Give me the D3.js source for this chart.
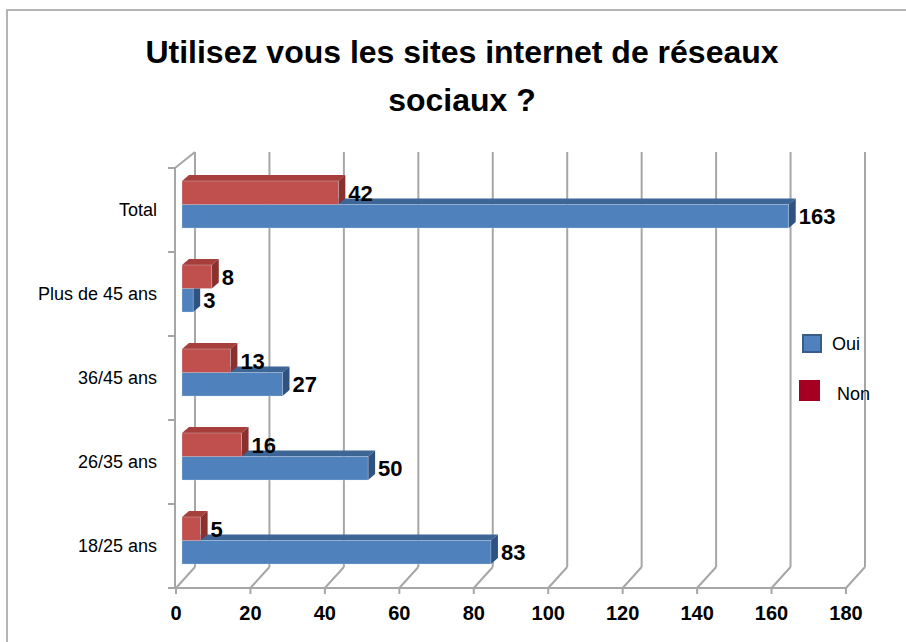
<!DOCTYPE html>
<html lang="fr">
<head>
    <meta charset="UTF-8">
    <title>Utilisez vous les sites internet de réseaux sociaux ?</title>
    <script src="https://d3js.org/d3.v7.min.js"></script>
    <style>
        body { margin: 0; background: #fff; }
        svg text { font-family: "Liberation Sans", Arial, sans-serif; }
    </style>
</head>
<body>
    <div id="chart"></div>
    <script>
        const categories = ["Total", "Plus de 45 ans", "36/45 ans", "26/35 ans", "18/25 ans"];
        const oui = [163, 3, 27, 50, 83];
        const non = [42, 8, 13, 16, 5];
        const xTicks = [0, 20, 40, 60, 80, 100, 120, 140, 160, 180];
        const seriesNames = ["Oui", "Non"];

        const W = 906, H = 642;
        const svg = d3.select("#chart").append("svg")
            .attr("width", W)
            .attr("height", H);

        // chart area frame
        svg.append("rect")
            .attr("x", 7).attr("y", 10)
            .attr("width", 950).attr("height", 700)
            .attr("fill", "#fff")
            .attr("stroke", "#b4b4b4")
            .attr("stroke-width", 2);

        // title
        const title = svg.append("text")
            .attr("text-anchor", "middle")
            .attr("font-weight", "bold")
            .attr("font-size", 32)
            .attr("fill", "#000");
        title.append("tspan").attr("x", 462).attr("y", 63).text("Utilisez vous les sites internet de réseaux");
        title.append("tspan").attr("x", 462).attr("y", 111).text("sociaux ?");

        // geometry: front floor, back wall (depth offset)
        const front = { x: 176, y: 588, top: 168 };
        const back = { x: 195, y: 567, top: 152 };

        const x = d3.scaleLinear().domain([0, 180]).range([0, 670]);
        const y = d3.scaleBand().domain(categories).range([front.top, front.y]);

        const grid = svg.append("g")
            .attr("stroke", "#a6a6a6")
            .attr("stroke-width", 2)
            .attr("fill", "none");

        // back wall gridlines
        grid.selectAll(".vgrid").data(xTicks).join("line")
            .attr("x1", d => back.x + x(d)).attr("x2", d => back.x + x(d))
            .attr("y1", back.top).attr("y2", back.y);

        // floor diagonals + front ticks
        grid.selectAll(".diag").data(xTicks).join("line")
            .attr("x1", d => front.x + x(d)).attr("y1", front.y)
            .attr("x2", d => back.x + x(d)).attr("y2", back.y);
        grid.selectAll(".ftick").data(xTicks).join("line")
            .attr("x1", d => front.x + x(d)).attr("x2", d => front.x + x(d))
            .attr("y1", front.y).attr("y2", front.y + 6);
        grid.append("line")
            .attr("x1", front.x - 6).attr("x2", front.x + x(180))
            .attr("y1", front.y).attr("y2", front.y);

        // left wall
        grid.append("line")
            .attr("x1", front.x - 1).attr("x2", front.x - 1)
            .attr("y1", front.top).attr("y2", front.y);
        grid.append("line")
            .attr("x1", front.x - 1).attr("y1", front.top)
            .attr("x2", back.x).attr("y2", back.top);
        const catEdges = categories.map(c => y(c)).concat([front.y]);
        grid.selectAll(".ctick").data(catEdges).join("line")
            .attr("x1", front.x - 8).attr("x2", front.x - 1)
            .attr("y1", d => d).attr("y2", d => d);

        // 3D bars
        const barH = 23.5, dx = 7, dy = -6, bx0 = 182;
        const colors = {
            Oui: { front: "#4f81bd", top: "#3d6697", side: "#2f5281" },
            Non: { front: "#c0504d", top: "#a63f3c", side: "#8a302e" }
        };

        function bar(g, v, y0, c) {
            const x1 = bx0 + x(v);
            g.append("path")
                .attr("d", `M${bx0},${y0}L${x1},${y0}L${x1 + dx},${y0 + dy}L${bx0 + dx},${y0 + dy}Z`)
                .attr("fill", c.top);
            g.append("path")
                .attr("d", `M${x1},${y0}L${x1 + dx},${y0 + dy}L${x1 + dx},${y0 + dy + barH}L${x1},${y0 + barH}Z`)
                .attr("fill", c.side);
            g.append("rect")
                .attr("x", bx0).attr("y", y0)
                .attr("width", x1 - bx0).attr("height", barH)
                .attr("fill", c.front)
                .attr("stroke", "#dfe8f3").attr("stroke-opacity", 0.5).attr("stroke-width", 0.6);
        }

        const bars = svg.append("g");
        categories.forEach((cat, i) => {
            const redY = y(cat) + 13;
            const blueY = redY + barH;
            bar(bars, oui[i], blueY, colors.Oui);
            bar(bars, non[i], redY, colors.Non);
        });

        // value labels
        const labels = svg.append("g")
            .attr("font-weight", "bold")
            .attr("font-size", 22)
            .attr("fill", "#000");
        categories.forEach((cat, i) => {
            const redY = y(cat) + 13;
            labels.append("text")
                .attr("x", bx0 + x(non[i]) + dx + 3)
                .attr("y", redY + barH / 2 + 8)
                .text(non[i]);
            labels.append("text")
                .attr("x", bx0 + x(oui[i]) + dx + 3)
                .attr("y", redY + barH * 1.5 + 8)
                .text(oui[i]);
        });

        // category labels
        svg.append("g")
            .attr("font-size", 18)
            .attr("text-anchor", "end")
            .selectAll("text").data(categories).join("text")
            .attr("x", 157)
            .attr("y", d => y(d) + y.bandwidth() / 2 + 6)
            .text(d => d);

        // x tick labels
        svg.append("g")
            .attr("font-size", 20)
            .attr("font-weight", "bold")
            .attr("text-anchor", "middle")
            .selectAll("text").data(xTicks).join("text")
            .attr("x", d => front.x + x(d))
            .attr("y", 620)
            .text(d => d);

        // legend
        const legend = svg.append("g");
        legend.append("rect")
            .attr("x", 803).attr("y", 335).attr("width", 18).attr("height", 17)
            .attr("fill", "#4f81bd").attr("stroke", "#385d8a").attr("stroke-width", 2);
        legend.append("text")
            .attr("x", 832).attr("y", 350).attr("font-size", 18).text(seriesNames[0]);
        legend.append("rect")
            .attr("x", 799).attr("y", 380).attr("width", 21).attr("height", 21)
            .attr("fill", "#a50021");
        legend.append("text")
            .attr("x", 837).attr("y", 400).attr("font-size", 18).text(seriesNames[1]);
    </script>
</body>
</html>
